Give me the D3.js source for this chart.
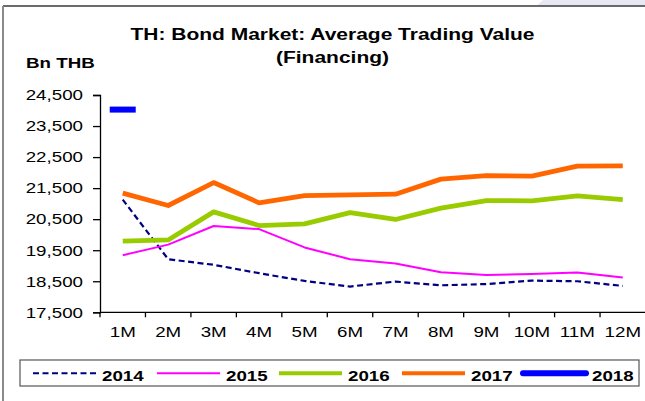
<!DOCTYPE html>
<html>
<head>
<meta charset="utf-8">
<script src="https://cdn.jsdelivr.net/npm/d3@7"></script>
<style>
  html, body { margin: 0; padding: 0; background: #fff; }
  svg { display: block; font-family: "Liberation Sans", Arial, sans-serif; }
</style>
</head>
<body>
<svg id="chart" width="645" height="401"></svg>
<script>
// Months on the category axis
const months = ["1M","2M","3M","4M","5M","6M","7M","8M","9M","10M","11M","12M"];

// Average trading value (Bn THB) per year
const v2014 = [21130, 19210, 19030, 18760, 18510, 18330, 18490, 18370, 18410, 18520, 18500, 18350];
const v2015 = [19340, 19680, 20280, 20180, 19590, 19210, 19070, 18790, 18700, 18735, 18780, 18620];
const v2016 = [19790, 19830, 20735, 20295, 20350, 20710, 20490, 20855, 21100, 21090, 21250, 21130];
const v2017 = [21340, 20940, 21680, 21025, 21260, 21285, 21305, 21790, 21905, 21885, 22210, 22220];
const v2018 = [24030, null, null, null, null, null, null, null, null, null, null, null];

const yTicks = [17500, 18500, 19500, 20500, 21500, 22500, 23500, 24500];
const years = ["2014", "2015", "2016", "2017", "2018"];

const series = [
  { name: "2014", values: v2014, color: "#000080", width: 2.2, dash: "6,3.5" },
  { name: "2015", values: v2015, color: "#ff00ff", width: 2, dash: null },
  { name: "2016", values: v2016, color: "#99cc00", width: 4.8, dash: null },
  { name: "2017", values: v2017, color: "#ff6600", width: 4.8, dash: null },
  { name: "2018", values: v2018, color: "#0000ff", width: 6, dash: null }
];

const svg = d3.select("#chart");
const SX = 1.25; // horizontal stretch applied to all lettering

function stretchedText(sel, x, y, sx = SX) {
  return sel.attr("transform", `translate(${x},${y}) scale(${sx},1)`);
}

// chart frame
svg.append("path").attr("d", "M543,0 L645,0 L645,5.5 L537,5.5 Z").attr("fill", "#e8e8f3");
svg.append("line").attr("x1", 3).attr("x2", 645).attr("y1", 6).attr("y2", 6)
  .attr("stroke", "#3a3a3a").attr("stroke-width", 1.5);
svg.append("line").attr("x1", 3).attr("x2", 3).attr("y1", 6).attr("y2", 401)
  .attr("stroke", "#8a8a8a").attr("stroke-width", 2);

// title
const title = svg.append("g").attr("font-weight", "bold").attr("font-size", "17.2px").attr("fill", "#000");
stretchedText(title.append("text").attr("text-anchor", "middle").text("TH: Bond Market: Average Trading Value"), 332.5, 40, 1.22);
stretchedText(title.append("text").attr("text-anchor", "middle").text("(Financing)"), 332.5, 62.5, 1.22);

// unit label
stretchedText(svg.append("text").attr("font-weight", "bold").attr("font-size", "15px").text("Bn THB"), 26, 68.3);

// scales
const x = d3.scaleBand().domain(months).range([100, 645.5]).padding(0);
const cx = m => x(m) + x.bandwidth() / 2;
const y = d3.scaleLinear().domain([17500, 24500]).range([312.3, 95]);

// y axis
const yAxis = svg.append("g").attr("transform", "translate(100,0)")
  .call(d3.axisLeft(y).tickValues(yTicks).tickFormat(d3.format(",")).tickSize(7).tickPadding(10));
yAxis.select(".domain").attr("stroke", "#000").attr("stroke-width", 1.3);
yAxis.selectAll(".tick line").attr("stroke", "#000").attr("stroke-width", 1.3);
yAxis.selectAll(".tick text")
  .attr("font-size", "15px").attr("font-family", "Liberation Sans, Arial, sans-serif").attr("fill", "#000")
  .each(function () {
    const t = d3.select(this);
    const tx = +t.attr("x");
    t.attr("x", null).attr("transform", `translate(${tx},0) scale(${SX},1)`);
  });

// x axis: boundary ticks, labels centred in each month
const xg = svg.append("g");
xg.append("line").attr("x1", 100).attr("x2", 645.5).attr("y1", y(17500)).attr("y2", y(17500))
  .attr("stroke", "#000").attr("stroke-width", 1.3);
const bounds = months.map(m => x(m));
xg.selectAll(".xt").data(bounds).join("line").attr("class", "xt")
  .attr("x1", d => d).attr("x2", d => d)
  .attr("y1", y(17500)).attr("y2", y(17500) + 5)
  .attr("stroke", "#000").attr("stroke-width", 1.3);
xg.selectAll(".xl").data(months).join("text").attr("class", "xl")
  .attr("text-anchor", "middle").attr("font-size", "15px").attr("fill", "#000")
  .attr("transform", d => `translate(${cx(d)},337) scale(${SX},1)`)
  .text(d => d);

// data lines
const line = d3.line().defined(d => d.v != null).x(d => cx(d.m)).y(d => y(d.v));
series.filter(s => s.name !== "2018").forEach(s => {
  svg.append("path")
    .datum(months.map((m, i) => ({ m, v: s.values[i] })))
    .attr("fill", "none")
    .attr("stroke", s.color)
    .attr("stroke-width", s.width)
    .attr("stroke-dasharray", s.dash)
    .attr("stroke-linejoin", "round")
    .attr("d", line);
});

// 2018 has only its first month: shown as a dash marker
const s18 = series.find(s => s.name === "2018");
svg.selectAll(".m18").data(months.map((m, i) => ({ m, v: s18.values[i] })).filter(d => d.v != null))
  .join("rect").attr("class", "m18")
  .attr("x", d => cx(d.m) - 13).attr("y", d => y(d.v) - 3)
  .attr("width", 26).attr("height", 6)
  .attr("fill", s18.color);

// legend
const lg = svg.append("g");
lg.append("rect").attr("x", 20).attr("y", 360).attr("width", 619).attr("height", 26)
  .attr("fill", "#fff").attr("stroke", "#555").attr("stroke-width", 1.2);
const legendStarts = [33, 157, 279, 402, 523];
series.forEach((s, i) => {
  const x0 = legendStarts[i];
  lg.append("line")
    .attr("x1", x0).attr("x2", x0 + 63).attr("y1", 373.3).attr("y2", 373.3)
    .attr("stroke", s.color)
    .attr("stroke-width", s.name === "2018" ? 6 : (s.width > 3 ? 4 : 2))
    .attr("stroke-linecap", s.name === "2018" ? "round" : "butt")
    .attr("stroke-dasharray", s.dash);
  stretchedText(lg.append("text").attr("font-weight", "bold").attr("font-size", "15px").attr("fill", "#000")
    .text(years[i]), x0 + 69, 380.5);
});
</script>
</body>
</html>
